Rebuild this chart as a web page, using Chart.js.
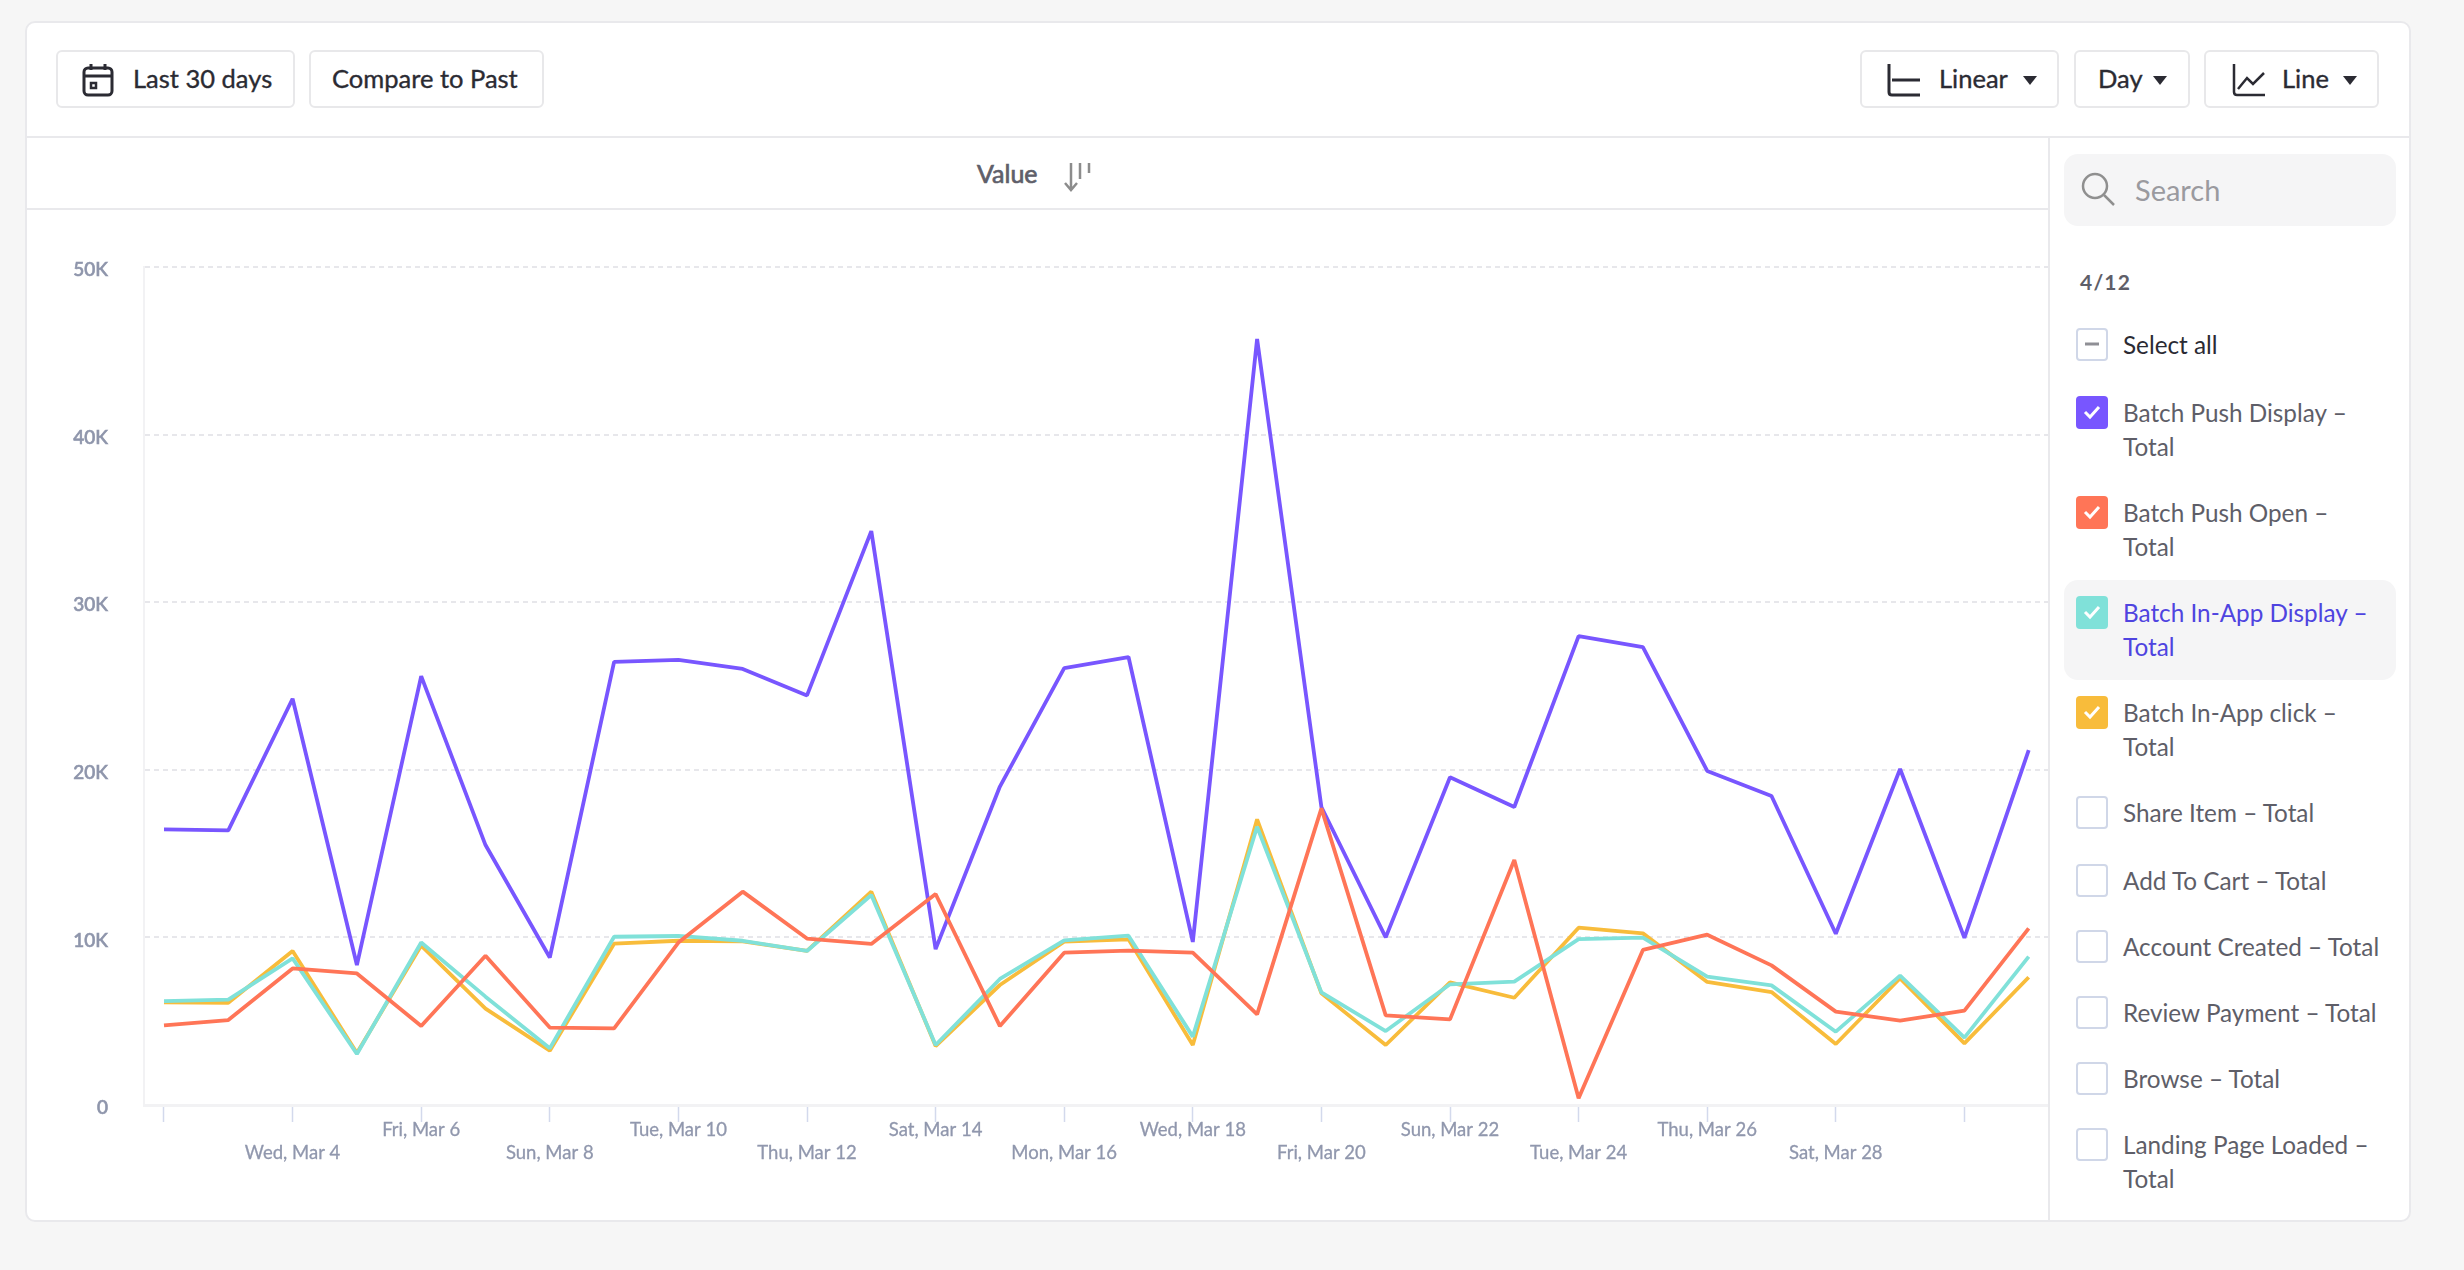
<!DOCTYPE html>
<html>
<head>
<meta charset="utf-8">
<title>Events</title>
<script src="https://cdn.jsdelivr.net/npm/chart.js@4"></script>
<style>
  html, body { margin: 0; padding: 0; background: #f6f6f6; font-family: Lato, sans-serif; }
  body { width: 2464px; height: 1270px; position: relative; overflow: hidden; }
  .abs { position: absolute; }
  #card { left: 25px; top: 21px; width: 2382px; height: 1197px; background: #fff; border: 2px solid #e9e9ec; border-radius: 10px; }
  .hline { background: #e9e9ec; height: 2px; }
  .vline { background: #e9e9ec; width: 2px; }
  .btn { top: 50px; height: 54px; background: #fff; border: 2px solid #e8e8ea; border-radius: 6px; }
  .btn-text { top: 60px; line-height: 36px; font-size: 25.5px; color: #2b2b33; white-space: nowrap; -webkit-text-stroke: 0.35px #2b2b33; }
  .caret { width: 0; height: 0; top: 76px; border-left: 7px solid transparent; border-right: 7px solid transparent; border-top: 9px solid #2b2b33; }
  #chart-wrap { left: 25px; top: 209px; width: 2024px; height: 1011px; overflow: hidden; }
  #chart-wrap canvas { display: block; }
  #search { left: 2064px; top: 154px; width: 332px; height: 72px; background: #f5f5f6; border-radius: 14px; }
  #list { left: 2064px; top: 312px; width: 332px; }
  .item { position: relative; padding: 16px 12px 16px 59px; line-height: 34px; font-size: 24.3px; color: #5e5e68; border-radius: 14px; }
  .item.active { background: #f5f5f6; color: #4f44e0; }
  .box { position: absolute; left: 12px; top: 16px; width: 32px; height: 33px; box-sizing: border-box; border-radius: 4px; border: 2px solid #d0d7e8; background: #fff; }
  .box.on { border: none; }
  .box svg { position: absolute; left: 0; top: 0; }
</style>
</head>
<body>
<div id="card" class="abs"></div>
<div class="abs hline" style="left:27px;top:136px;width:2382px"></div>
<div class="abs hline" style="left:27px;top:208px;width:2021px"></div>
<div class="abs vline" style="left:2048px;top:137px;height:1083px"></div>

<div class="abs btn" style="left:56px;width:235px"></div>
<svg class="abs" style="left:82px;top:63px" width="33" height="34" viewBox="0 0 33 34" fill="none" stroke="#2b2b33" stroke-width="3">
  <rect x="2" y="5" width="28" height="27" rx="4"/><path d="M2 13H30M9 1V7M23 1V7"/><rect x="9" y="20" width="5" height="5" stroke-width="2.5"/>
</svg>
<div class="abs btn-text" style="left:133px">Last 30 days</div>
<div class="abs btn" style="left:309px;width:231px"></div>
<div class="abs btn-text" style="left:332px">Compare to Past</div>

<div class="abs btn" style="left:1860px;width:195px"></div>
<svg class="abs" style="left:1886px;top:63px" width="35" height="35" viewBox="0 0 35 35" fill="none" stroke="#2b2b33" stroke-width="3">
  <path d="M3 1V29Q3 32 6 32H34M6 17H34"/>
</svg>
<div class="abs btn-text" style="left:1939px">Linear</div>
<div class="abs caret" style="left:2023px"></div>
<div class="abs btn" style="left:2074px;width:112px"></div>
<div class="abs btn-text" style="left:2098px">Day</div>
<div class="abs caret" style="left:2153px"></div>
<div class="abs btn" style="left:2204px;width:171px"></div>
<svg class="abs" style="left:2231px;top:63px" width="35" height="35" viewBox="0 0 35 35" fill="none" stroke="#2b2b33" stroke-width="3">
  <path d="M3 1V29Q3 32 6 32H34M7 26L16 15L22 21L33 10" stroke-width="2.5"/>
</svg>
<div class="abs btn-text" style="left:2282px">Line</div>
<div class="abs caret" style="left:2343px"></div>

<div class="abs" style="left:977px;top:155px;line-height:36px;font-size:25px;color:#5f5f6a;-webkit-text-stroke:0.7px #5f5f6a">Value</div>
<svg class="abs" style="left:1064px;top:162px" width="28" height="30" viewBox="0 0 28 30" fill="none" stroke="#8c8c8c" stroke-width="2.5">
  <path d="M7 1V27M1 21L7 28L13 21M16 1V17M25 1V11"/>
</svg>

<div id="chart-wrap" class="abs"><canvas id="eventsChart" width="2023" height="1011"></canvas></div>

<div id="search" class="abs"></div>
<svg class="abs" style="left:2081px;top:172px" width="34" height="34" viewBox="0 0 34 34" fill="none" stroke="#8f8f8f" stroke-width="2.5">
  <circle cx="14" cy="14" r="12"/><path d="M23 23L33 33"/>
</svg>
<div class="abs" style="left:2135px;top:170px;line-height:40px;font-size:29px;color:#9a9a9f">Search</div>
<div class="abs" style="left:2080px;top:265px;line-height:34px;font-size:21px;font-weight:700;letter-spacing:1.2px;color:#5e5e68">4/12</div>
<div id="list" class="abs"></div>

<script>
const dates = [
  'Mon, Mar 2', 'Tue, Mar 3', 'Wed, Mar 4', 'Thu, Mar 5', 'Fri, Mar 6', 'Sat, Mar 7', 'Sun, Mar 8', 'Mon, Mar 9',
  'Tue, Mar 10', 'Wed, Mar 11', 'Thu, Mar 12', 'Fri, Mar 13', 'Sat, Mar 14', 'Sun, Mar 15', 'Mon, Mar 16', 'Tue, Mar 17',
  'Wed, Mar 18', 'Thu, Mar 19', 'Fri, Mar 20', 'Sat, Mar 21', 'Sun, Mar 22', 'Mon, Mar 23', 'Tue, Mar 24', 'Wed, Mar 25',
  'Thu, Mar 26', 'Fri, Mar 27', 'Sat, Mar 28', 'Sun, Mar 29', 'Mon, Mar 30', 'Tue, Mar 31'
];

const batchPushDisplay = [16440, 16390, 24240, 8350, 25590, 15510, 8800, 26440, 26560, 26020, 24440, 34240, 9300, 19000, 26070, 26730, 9730, 45700, 17780, 10000, 19560, 17780, 27975, 27320, 19930, 18440, 10220, 20050, 9975, 21170];
const batchPushOpen = [4750, 5070, 8150, 7850, 4710, 8910, 4620, 4570, 9690, 12730, 9930, 9610, 12590, 4710, 9090, 9210, 9090, 5410, 17700, 5350, 5110, 14620, 400, 9250, 10160, 8330, 5570, 5030, 5630, 10540];
const batchInAppDisplay = [6200, 6285, 8750, 3040, 9700, 6465, 3380, 10040, 10085, 9800, 9190, 12530, 3580, 7520, 9820, 10100, 4080, 16600, 6720, 4415, 7200, 7360, 9900, 9985, 7660, 7140, 4375, 7720, 4020, 8850];
const batchInAppClick = [6125, 6100, 9190, 3100, 9510, 5750, 3240, 9625, 9800, 9770, 9190, 12730, 3520, 7160, 9745, 9885, 3580, 17045, 6660, 3580, 7320, 6400, 10580, 10240, 7340, 6740, 3640, 7560, 3680, 7620];

const yTickLabels = ['0', '10K', '20K', '30K', '40K', '50K'];
const xTickDays = [0, 2, 4, 6, 8, 10, 12, 14, 16, 18, 20, 22, 24, 26, 28];
const xTickLabels = ['', 'Wed, Mar 4', 'Fri, Mar 6', 'Sun, Mar 8', 'Tue, Mar 10', 'Thu, Mar 12', 'Sat, Mar 14', 'Mon, Mar 16', 'Wed, Mar 18', 'Fri, Mar 20', 'Sun, Mar 22', 'Tue, Mar 24', 'Thu, Mar 26', 'Sat, Mar 28', ''];

const legendNames = ['Batch Push Display – Total', 'Batch Push Open – Total', 'Batch In-App Display – Total', 'Batch In-App click – Total', 'Share Item – Total', 'Add To Cart – Total', 'Account Created – Total', 'Review Payment – Total', 'Browse – Total', 'Landing Page Loaded – Total'];
const legendColors = ['#7856ff', '#ff7557', '#80e1d9', '#f8bc3b'];

const list = document.getElementById('list');
function addItem(name, boxHtml, cls) {
  const item = document.createElement('div');
  item.className = 'item ' + (cls || '');
  item.innerHTML = boxHtml + name;
  list.appendChild(item);
  return item;
}
const selectAll = addItem('Select all', '<div class="box"><svg width="28" height="29"><path d="M7 14H21" stroke="#8f8f95" stroke-width="3"/></svg></div>');
selectAll.style.color = '#2b2b33';
selectAll.style.height = '36px';
legendNames.forEach((name, i) => {
  const color = legendColors[i];
  const box = color
    ? `<div class="box on" style="background:${color}"><svg width="32" height="33" fill="none"><path d="M9 16L14 21L23 11" stroke="#fff" stroke-width="3"/></svg></div>`
    : '<div class="box"></div>';
  const item = addItem(name, box, i === 2 ? 'active' : '');
  if (name.startsWith('Add To')) item.style.marginTop = '2px';
});

function makeDataset(label, values, color, order) {
  return {
    label: label,
    data: values.map((v, i) => ({ x: i, y: v })),
    borderColor: color,
    borderWidth: 3.8,
    borderJoinStyle: 'bevel',
    pointRadius: 0,
    tension: 0,
    fill: false,
    order: order
  };
}

new Chart(document.getElementById('eventsChart').getContext('2d'), {
  type: 'line',
  data: {
    datasets: [
      makeDataset(legendNames[0], batchPushDisplay, legendColors[0], 4),
      makeDataset(legendNames[1], batchPushOpen, legendColors[1], 1),
      makeDataset(legendNames[2], batchInAppDisplay, legendColors[2], 2),
      makeDataset(legendNames[3], batchInAppClick, legendColors[3], 3)
    ]
  },
  options: {
    responsive: false,
    animation: false,
    devicePixelRatio: 1,
    layout: { padding: { top: 58, right: 0, bottom: 0, left: 0 } },
    plugins: { legend: { display: false }, tooltip: { enabled: false } },
    scales: {
      x: {
        type: 'linear',
        min: -0.311,
        max: 29.3,
        afterBuildTicks: axis => { axis.ticks = xTickDays.map(v => ({ value: v })); },
        afterFit: axis => { axis.height = 115; },
        border: { display: true, color: '#f2f2f4', width: 3 },
        grid: { drawOnChartArea: false, drawTicks: true, tickLength: 17, tickWidth: 1.5, tickColor: '#d3d9ec' },
        ticks: {
          autoSkip: false,
          maxRotation: 0,
          minRotation: 0,
          padding: -3,
          color: '#9097ad',
          textStrokeColor: '#9097ad',
          textStrokeWidth: 0.3,
          font: { family: 'Lato', size: 18.5, lineHeight: '23px' },
          // alternate the labels over two rows, as the original axis does
          callback: v => {
            const label = xTickLabels[xTickDays.indexOf(v)];
            return v % 4 === 0 ? [label, ''] : ['', label];
          }
        }
      },
      y: {
        min: 0,
        max: 50000,
        afterFit: axis => { axis.width = 119; },
        border: { display: true, color: '#f2f2f4', width: 2, dash: [5, 4] },
        grid: { color: '#e7e7eb', lineWidth: 2, drawTicks: false },
        ticks: {
          stepSize: 10000,
          padding: 36,
          labelOffset: 3,
          color: '#8e95ab',
          textStrokeColor: '#8e95ab',
          textStrokeWidth: 0.6,
          font: { family: 'Lato', size: 19, weight: '500' },
          callback: v => yTickLabels[v / 10000]
        }
      }
    }
  }
});
</script>
</body>
</html>
